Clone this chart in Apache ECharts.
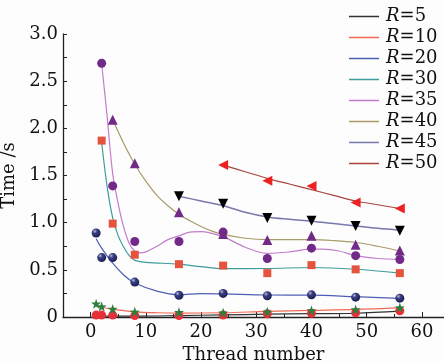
<!DOCTYPE html>
<html>
<head>
<meta charset="utf-8">
<script src="https://cdn.jsdelivr.net/npm/echarts@6/dist/echarts.min.js"></script>
<style>
  html, body { margin: 0; padding: 0; background: #fdfdfd; }
  #chart { width: 444px; height: 362px; }
</style>
</head>
<body>
<div id="chart"></div>
<script>
// series names (legend order)
const seriesNames = ["R=5", "R=10", "R=20", "R=30", "R=35", "R=40", "R=45", "R=50"];

// thread counts where each marker set was measured
const threadsAll = [1, 2, 4, 8, 16, 24, 32, 40, 48, 56];
const threadsFrom2 = [2, 4, 8, 16, 24, 32, 40, 48, 56];
const threadsFrom4 = [4, 8, 16, 24, 32, 40, 48, 56];
const threadsFrom16 = [16, 24, 32, 40, 48, 56];
const threadsFrom24 = [24, 32, 40, 48, 56];

// measured times (markers)
const r5Points = [0.02, 0.02, 0.02, 0.015, 0.015, 0.02, 0.035, 0.04, 0.045, 0.065];
const r10Points = [0.14, 0.11, 0.085, 0.055, 0.05, 0.045, 0.055, 0.07, 0.08, 0.10];
const r20Points = [0.89, 0.63, 0.63, 0.37, 0.23, 0.25, 0.225, 0.235, 0.21, 0.20];
const r30Points = [1.87, 0.99, 0.66, 0.56, 0.545, 0.465, 0.55, 0.505, 0.465];
const r35Points = [2.69, 1.39, 0.80, 0.80, 0.90, 0.62, 0.73, 0.65, 0.61];
const r40Points = [2.09, 1.63, 1.11, 0.88, 0.815, 0.86, 0.765, 0.705];
const r45Points = [1.28, 1.20, 1.05, 1.02, 0.965, 0.915];
const r50Points = [1.61, 1.445, 1.39, 1.215, 1.15];

// fitted curves as [threads, time]
const r5Curve = [[1, 0.01], [4, 0.01], [8, 0.01], [16, 0.015], [24, 0.022], [32, 0.03], [40, 0.035], [48, 0.04], [56, 0.062]];
const r10Curve = [[1, 0.12], [2, 0.105], [4, 0.08], [8, 0.055], [12, 0.045], [16, 0.042], [24, 0.045], [32, 0.06], [40, 0.07], [48, 0.08], [56, 0.10]];
const r20Curve = [[1, 0.83], [2, 0.73], [4, 0.57], [6, 0.445], [8, 0.36], [12, 0.275], [16, 0.237], [20, 0.248], [24, 0.245], [32, 0.233], [40, 0.232], [48, 0.215], [56, 0.198]];
const r30Curve = [[2, 1.85], [3, 1.38], [4, 1.05], [5, 0.86], [6, 0.74], [7, 0.65], [8, 0.60], [10, 0.58], [16, 0.56], [20, 0.533], [24, 0.512], [32, 0.514], [40, 0.525], [48, 0.506], [56, 0.465]];
const r35Curve = [[2, 2.69], [3, 2.12], [4, 1.52], [5, 1.2], [6, 0.95], [7, 0.78], [8, 0.70], [9, 0.68], [10, 0.69], [12, 0.75], [14, 0.82], [16, 0.86], [18, 0.90], [20, 0.905], [24, 0.85], [28, 0.74], [32, 0.675], [36, 0.69], [40, 0.72], [42, 0.72], [45, 0.70], [48, 0.65], [52, 0.62], [56, 0.61]];
const r40Curve = [[4, 2.09], [6, 1.84], [8, 1.62], [10, 1.44], [12, 1.29], [14, 1.18], [16, 1.09], [18, 1.02], [20, 0.96], [22, 0.91], [24, 0.875], [28, 0.835], [32, 0.82], [40, 0.82], [44, 0.81], [48, 0.79], [52, 0.75], [56, 0.70]];
const r45Curve = [[16, 1.28], [20, 1.23], [24, 1.18], [28, 1.11], [32, 1.06], [36, 1.035], [40, 1.015], [44, 0.99], [48, 0.965], [52, 0.94], [56, 0.92]];
const r50Curve = [[24, 1.61], [28, 1.54], [32, 1.47], [36, 1.41], [40, 1.35], [44, 1.29], [48, 1.23], [52, 1.19], [56, 1.15]];

// axis ticks
const xLabelTicks = [0, 10, 20, 30, 40, 50, 60];
const xMinorTicks = [5, 15, 25, 35, 45, 55];

const font = "DejaVu Serif";
const STAR = "path://M0,-10 L2.35,-3.24 9.51,-3.09 3.8,1.24 5.88,8.09 0,4 -5.88,8.09 -3.8,1.24 -9.51,-3.09 -2.35,-3.24Z";
const sphere = new echarts.graphic.RadialGradient(0.35, 0.3, 0.7, [
  { offset: 0, color: "#b8bce0" },
  { offset: 0.35, color: "#3a3f80" },
  { offset: 1, color: "#1c1f55" },
]);

const curves = [r5Curve, r10Curve, r20Curve, r30Curve, r35Curve, r40Curve, r45Curve, r50Curve];
const lineColors = ["#333333", "#f26a55", "#4d5fb5", "#3f9c9c", "#c27ccc", "#aa9a68", "#7878ad", "#a8463e"];
const lineWidths = [1.2, 1.2, 1.2, 1.2, 1.2, 1.2, 1.5, 1.2];

const markerSets = [
  { x: threadsAll, y: r5Points, symbol: "circle", size: 9, color: "#e8303a", rotate: 0 },
  { x: threadsAll, y: r10Points, symbol: STAR, size: 10, color: "#2f7f3c", rotate: 0 },
  { x: threadsAll, y: r20Points, symbol: "circle", size: 9, color: sphere, rotate: 0 },
  { x: threadsFrom2, y: r30Points, symbol: "rect", size: 8, color: "#e5533f", rotate: 0 },
  { x: threadsFrom2, y: r35Points, symbol: "circle", size: 9, color: "#722a88", rotate: 0 },
  { x: threadsFrom4, y: r40Points, symbol: "triangle", size: 10, color: "#722a88", rotate: 0 },
  { x: threadsFrom16, y: r45Points, symbol: "triangle", size: 10, color: "#000000", rotate: 180 },
  { x: threadsFrom24, y: r50Points, symbol: "triangle", size: 10, color: "#ec2222", rotate: 90 },
];

const lineSeries = seriesNames.map((name, i) => ({
  name,
  type: "line",
  data: curves[i],
  smooth: 0.35,
  showSymbol: false,
  silent: true,
  itemStyle: { color: lineColors[i] },
  lineStyle: { color: lineColors[i], width: lineWidths[i] },
  z: 2,
}));

const markerSeries = markerSets.map((m, i) => ({
  name: seriesNames[i] + " data",
  type: "scatter",
  data: m.x.map((t, k) => [t, m.y[k]]),
  symbol: m.symbol,
  symbolSize: m.size,
  symbolRotate: m.rotate,
  itemStyle: { color: m.color, opacity: 1 },
  z: 3,
}));

const chart = echarts.init(document.getElementById("chart"), null, { renderer: "canvas" });
chart.setOption({
  animation: false,
  backgroundColor: "#fdfdfd",
  textStyle: { fontFamily: font, color: "#222" },
  grid: { left: 63, right: 0, top: 34, bottom: 45, containLabel: false, outerBoundsMode: "none" },
  legend: {
    data: seriesNames,
    orient: "vertical",
    left: 349,
    top: 6,
    icon: "rect",
    itemWidth: 30,
    itemHeight: 1.5,
    itemGap: 0,
    padding: 0,
    formatter: (name) => "{i|R}{t|" + name.slice(1) + "}",
    textStyle: {
      fontFamily: font,
      fontSize: 18,
      color: "#111",
      lineHeight: 21,
      padding: [0, 0, 0, 2],
      rich: {
        i: { fontFamily: font, fontStyle: "italic", fontSize: 18, lineHeight: 21, color: "#111" },
        t: { fontFamily: font, fontSize: 18, lineHeight: 21, color: "#111" },
      },
    },
  },
  xAxis: [
    {
      type: "value",
      min: -5,
      max: 64,
      interval: 5,
      name: "Thread number",
      nameLocation: "middle",
      nameGap: 26,
      nameTextStyle: { fontFamily: font, fontSize: 18, color: "#111" },
      axisLine: { onZero: false, lineStyle: { color: "#222", width: 1.3 } },
      axisTick: { inside: true, length: 5, customValues: xLabelTicks, lineStyle: { color: "#222" } },
      axisLabel: { customValues: xLabelTicks, fontFamily: font, fontSize: 18, color: "#111", margin: 6 },
      splitLine: { show: false },
    },
    {
      type: "value",
      min: -5,
      max: 64,
      interval: 5,
      position: "bottom",
      axisLine: { show: false },
      axisTick: { inside: true, length: 3, customValues: xMinorTicks, lineStyle: { color: "#222" } },
      axisLabel: { show: false },
      splitLine: { show: false },
    },
  ],
  yAxis: {
    type: "value",
    min: 0,
    max: 3,
    interval: 0.5,
    name: "Time /s",
    nameLocation: "middle",
    nameGap: 36,
    nameTextStyle: { fontFamily: font, fontSize: 18, color: "#111" },
    axisLine: { show: true, onZero: false, lineStyle: { color: "#222", width: 1.3 } },
    axisTick: { inside: true, length: 4, lineStyle: { color: "#222" } },
    minorTick: { show: true, splitNumber: 2, length: 4, lineStyle: { color: "#222" } },
    axisLabel: {
      fontFamily: font,
      fontSize: 18,
      color: "#111",
      margin: 5,
      formatter: (v) => (v === 0 ? "0" : v.toFixed(1)),
    },
    splitLine: { show: false },
  },
  series: [...lineSeries, ...markerSeries],
});
</script>
</body>
</html>
